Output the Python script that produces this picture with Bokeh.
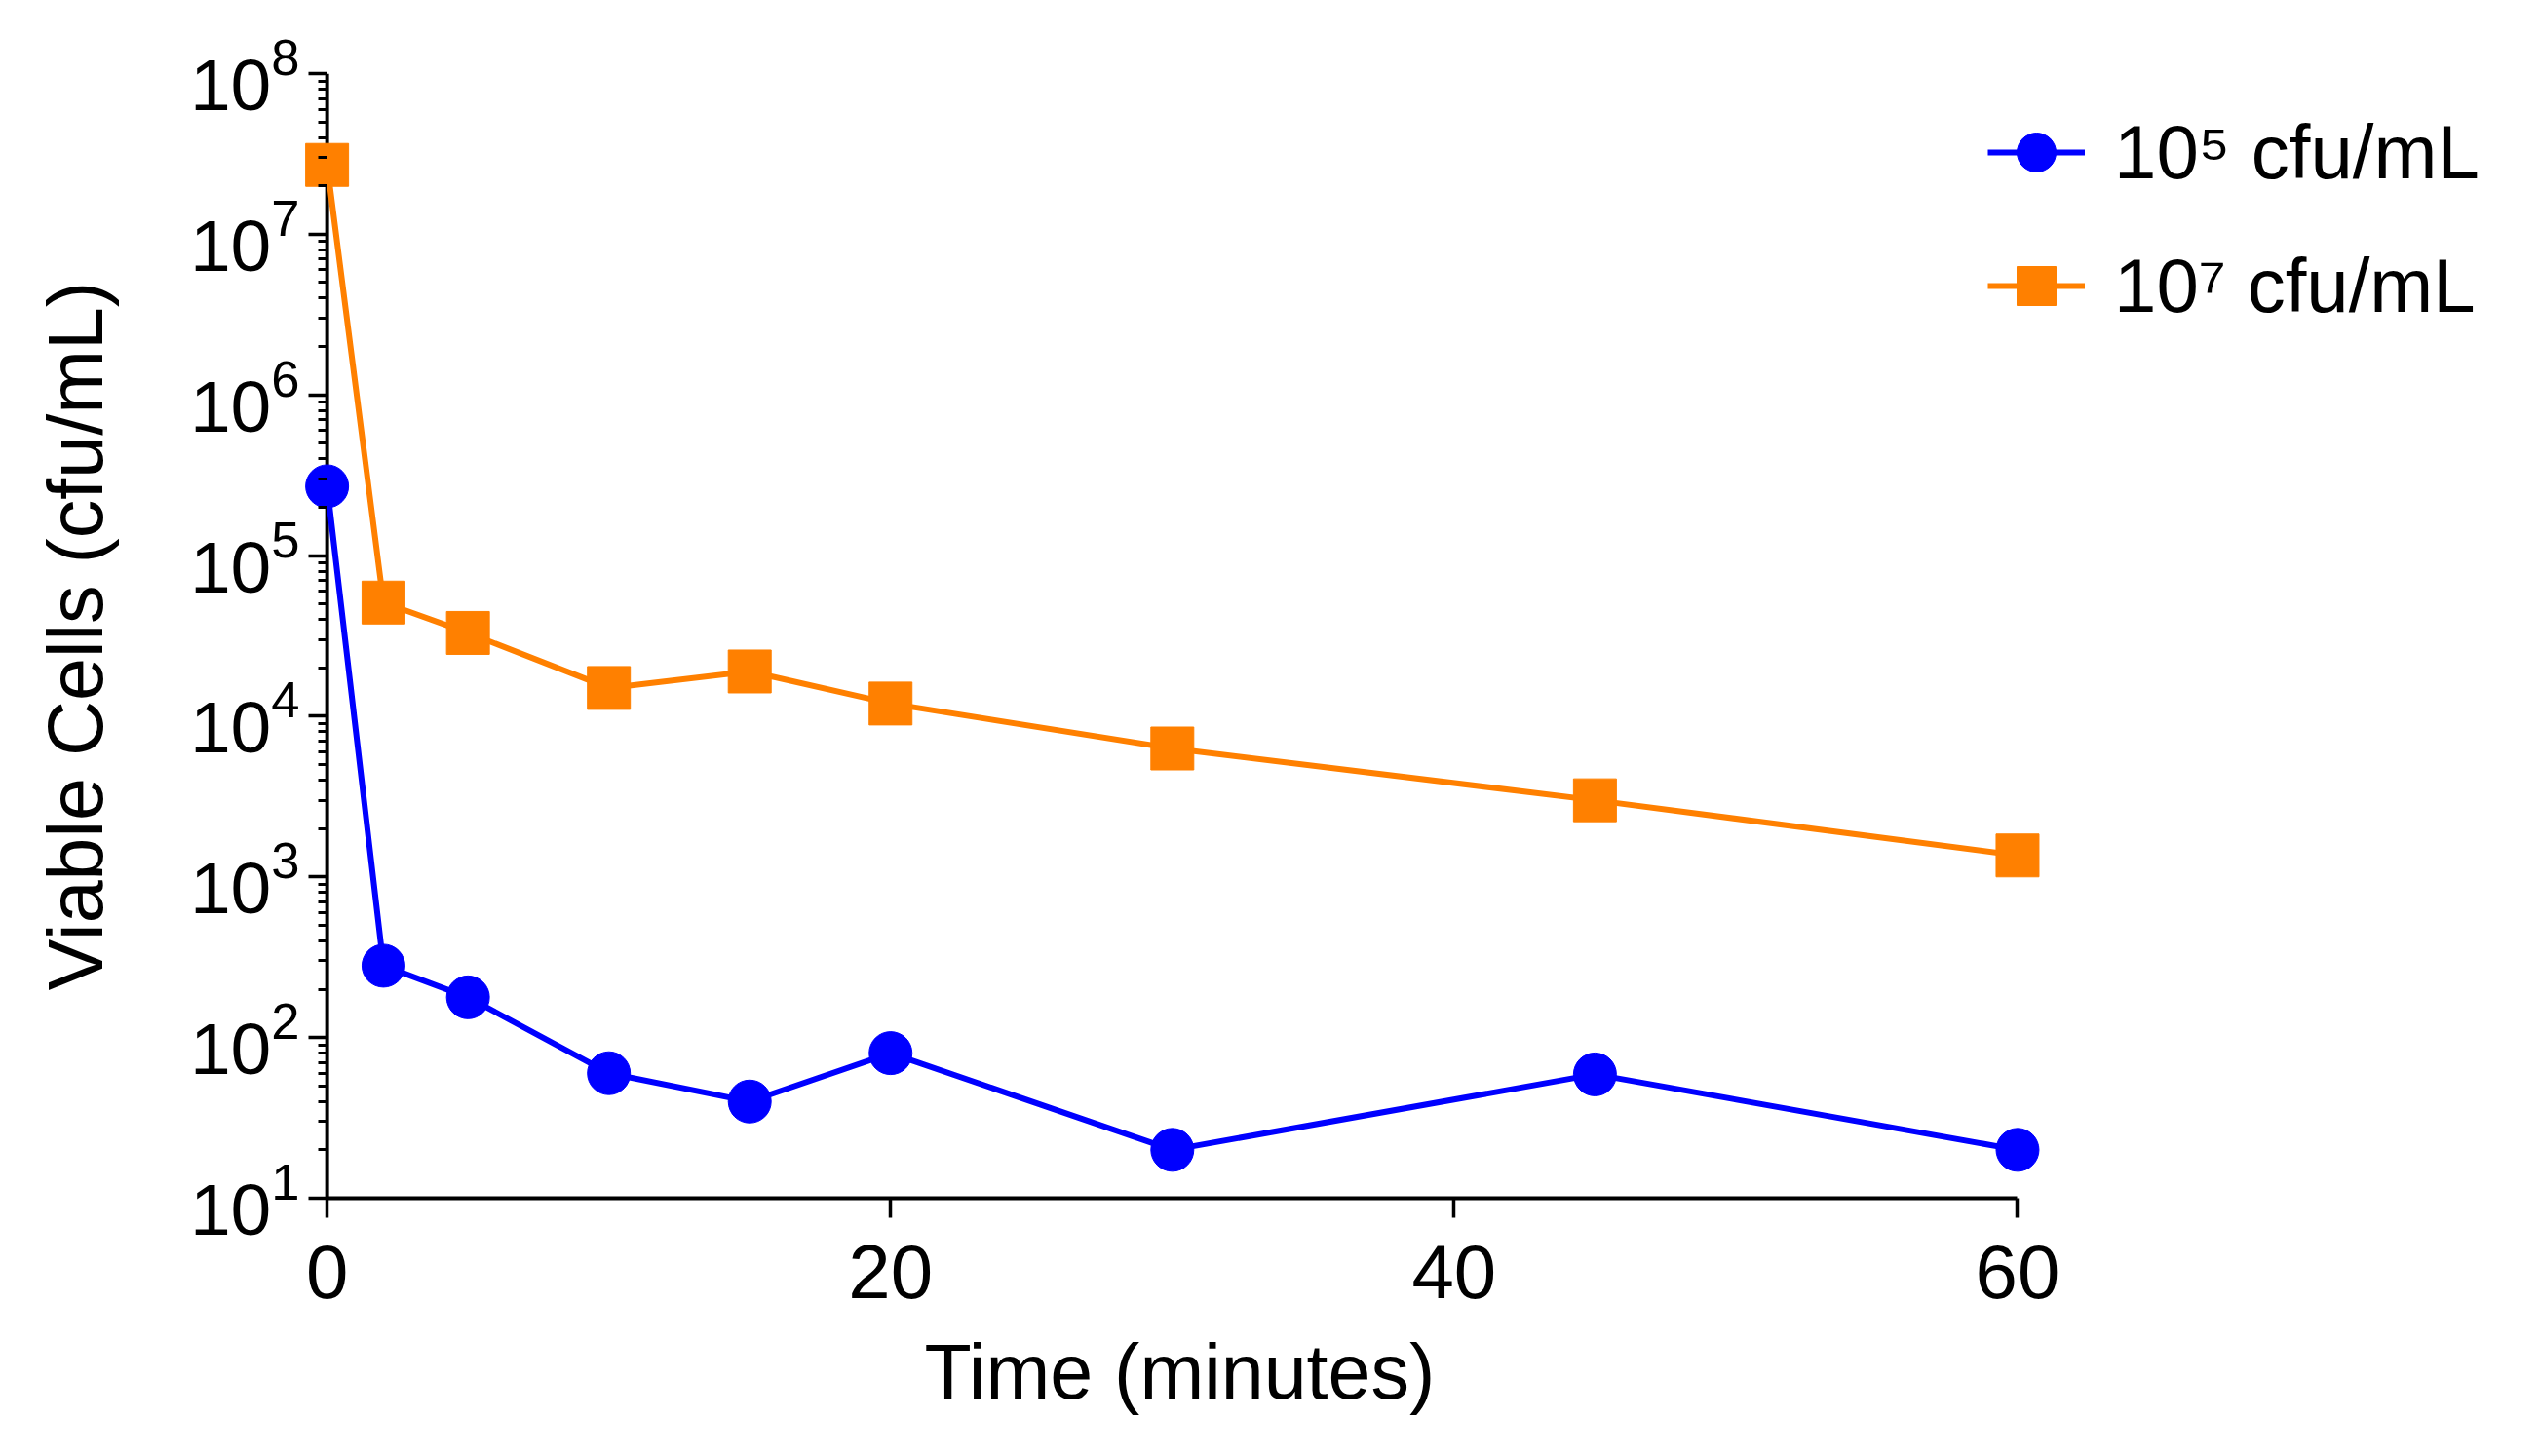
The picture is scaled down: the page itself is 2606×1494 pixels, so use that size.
from bokeh.plotting import figure
from bokeh.models import Range1d, FixedTicker, Legend, LegendItem, LogTicker, Span, Title
from bokeh.embed import file_html
from bokeh.resources import INLINE

# ---- data ----
time_min = [0, 2, 5, 10, 15, 20, 30, 45, 60]
cfu_1e5 = [2.7e5, 280, 178, 60, 40, 80, 20, 59, 20]
cfu_1e7 = [2.7e7, 5.1e4, 3.3e4, 1.5e4, 1.9e4, 1.2e4, 6.3e3, 3.0e3, 1.36e3]
x_ticks = [0, 20, 40, 60]
x_axis_bounds = (0, 60)
y_axis_bounds = (10, 1e8)
series_labels = ["10\u2075 cfu/mL", "10\u2077 cfu/mL"]
x_title = "Time (minutes)"
y_title = "Viable Cells (cfu/mL)"

BLUE = "#0000FF"
ORANGE = "#FF8000"
FONT = "Liberation Sans"

# frame is widened (invisible: no outline / grid) so markers at the axis ends
# and the legend are not clipped
p = figure(
    frame_width=2272, frame_height=1154,
    min_border_left=312, min_border_right=6,
    min_border_top=75, min_border_bottom=249,
    x_range=Range1d(-0.8, 77.8), y_range=Range1d(*y_axis_bounds),
    y_axis_type="log",
    output_backend="svg", toolbar_location=None,
)
p.outline_line_color = None
p.grid.visible = False
p.background_fill_color = "white"
p.border_fill_color = "white"

# y axis line sits at x = 0
p.add_layout(Span(location=0, dimension="height", line_color="black",
                  line_width=4, level="underlay"))

# lines + markers
l1 = p.line(time_min, cfu_1e5, line_color=BLUE, line_width=6)
s1 = p.scatter(time_min, cfu_1e5, marker="circle", size=44, fill_color=BLUE, line_color=BLUE)
l2 = p.line(time_min, cfu_1e7, line_color=ORANGE, line_width=6)
s2 = p.scatter(time_min, cfu_1e7, marker="square", size=44, fill_color=ORANGE, line_color=ORANGE)

# x axis
xa = p.xaxis[0]
xa.ticker = FixedTicker(ticks=x_ticks)
xa.bounds = x_axis_bounds
xa.axis_line_width = 4
xa.axis_line_color = "black"
xa.major_tick_line_width = 3.5
xa.major_tick_line_color = "black"
xa.major_tick_in = 0
xa.major_tick_out = 20
xa.minor_tick_line_color = None
xa.major_label_text_font = FONT
xa.major_label_text_font_size = "78px"
xa.major_label_text_color = "black"
xa.major_label_standoff = 28

# x axis title, centred under the bounded axis (0..60)
p.add_layout(Title(text=x_title, align="left", offset=636, standoff=53,
                   text_font=FONT, text_font_size="79px", text_font_style="normal",
                   text_color="black"), "below")

# y axis (ticks shifted into the frame so that they end at x = 0)
ya = p.yaxis[0]
ya.ticker = LogTicker(num_minor_ticks=10)
ya.axis_line_color = None
ya.major_tick_line_width = 3.5
ya.major_tick_line_color = "black"
ya.major_tick_in = 23
ya.major_tick_out = -4
ya.minor_tick_line_width = 3
ya.minor_tick_line_color = "black"
ya.minor_tick_in = 23
ya.minor_tick_out = -14
ya.major_label_text_font = FONT
ya.major_label_text_font_size = "75px"
ya.major_label_text_color = "black"
ya.major_label_standoff = 9
ya.axis_label = y_title
ya.axis_label_text_font = FONT
ya.axis_label_text_font_size = "79px"
ya.axis_label_text_font_style = "normal"
ya.axis_label_text_color = "black"
ya.axis_label_standoff = 70

legend = Legend(
    items=[LegendItem(label=series_labels[0], renderers=[l1, s1]),
           LegendItem(label=series_labels[1], renderers=[l2, s2])],
    location=(1727, 886),
    glyph_width=100, glyph_height=100, label_height=100,
    spacing=37, padding=0, margin=0, label_standoff=30,
    label_text_font=FONT, label_text_font_size="78px", label_text_color="black",
    border_line_color=None, background_fill_alpha=0,
)
p.add_layout(legend, "center")

open("out.html", "w").write(file_html(p, INLINE))
